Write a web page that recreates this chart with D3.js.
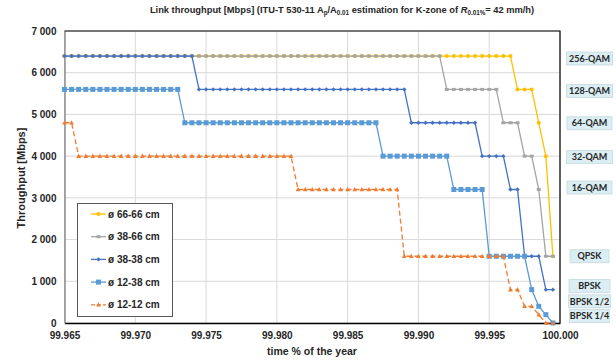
<!DOCTYPE html>
<html>
<head>
<meta charset="utf-8">
<script src="https://cdn.jsdelivr.net/npm/d3@7"></script>
<style>
  body { margin: 0; background: #fff; }
  text { font-family: "Liberation Sans", Arial, sans-serif; font-weight: bold; fill: #262626; }
  .mod text { font-family: Lato, "Open Sans", sans-serif; }
</style>
</head>
<body>
<div id="graph"></div>
<script>
// time % of the year (x values, every 0.0005)
const timePct = [
  99.9650, 99.9655, 99.9660, 99.9665, 99.9670, 99.9675, 99.9680, 99.9685, 99.9690, 99.9695,
  99.9700, 99.9705, 99.9710, 99.9715, 99.9720, 99.9725, 99.9730, 99.9735, 99.9740, 99.9745,
  99.9750, 99.9755, 99.9760, 99.9765, 99.9770, 99.9775, 99.9780, 99.9785, 99.9790, 99.9795,
  99.9800, 99.9805, 99.9810, 99.9815, 99.9820, 99.9825, 99.9830, 99.9835, 99.9840, 99.9845,
  99.9850, 99.9855, 99.9860, 99.9865, 99.9870, 99.9875, 99.9880, 99.9885, 99.9890, 99.9895,
  99.9900, 99.9905, 99.9910, 99.9915, 99.9920, 99.9925, 99.9930, 99.9935, 99.9940, 99.9945,
  99.9950, 99.9955, 99.9960, 99.9965, 99.9970, 99.9975, 99.9980, 99.9985, 99.9990, 99.9995
];

// throughput [Mbps] per antenna pair
const d66_66 = [
  6400, 6400, 6400, 6400, 6400, 6400, 6400, 6400, 6400, 6400,
  6400, 6400, 6400, 6400, 6400, 6400, 6400, 6400, 6400, 6400,
  6400, 6400, 6400, 6400, 6400, 6400, 6400, 6400, 6400, 6400,
  6400, 6400, 6400, 6400, 6400, 6400, 6400, 6400, 6400, 6400,
  6400, 6400, 6400, 6400, 6400, 6400, 6400, 6400, 6400, 6400,
  6400, 6400, 6400, 6400, 6400, 6400, 6400, 6400, 6400, 6400,
  6400, 6400, 6400, 6400, 5600, 5600, 5600, 4800, 4000, 1600
];
const d38_66 = [
  6400, 6400, 6400, 6400, 6400, 6400, 6400, 6400, 6400, 6400,
  6400, 6400, 6400, 6400, 6400, 6400, 6400, 6400, 6400, 6400,
  6400, 6400, 6400, 6400, 6400, 6400, 6400, 6400, 6400, 6400,
  6400, 6400, 6400, 6400, 6400, 6400, 6400, 6400, 6400, 6400,
  6400, 6400, 6400, 6400, 6400, 6400, 6400, 6400, 6400, 6400,
  6400, 6400, 6400, 6400, 5600, 5600, 5600, 5600, 5600, 5600,
  5600, 5600, 4800, 4800, 4800, 4000, 4000, 3200, 1600, 1600
];
const d38_38 = [
  6400, 6400, 6400, 6400, 6400, 6400, 6400, 6400, 6400, 6400,
  6400, 6400, 6400, 6400, 6400, 6400, 6400, 6400, 6400, 5600,
  5600, 5600, 5600, 5600, 5600, 5600, 5600, 5600, 5600, 5600,
  5600, 5600, 5600, 5600, 5600, 5600, 5600, 5600, 5600, 5600,
  5600, 5600, 5600, 5600, 5600, 5600, 5600, 5600, 5600, 4800,
  4800, 4800, 4800, 4800, 4800, 4800, 4800, 4800, 4800, 4000,
  4000, 4000, 4000, 3200, 3200, 1600, 1600, 1600, 800, 800
];
const d12_38 = [
  5600, 5600, 5600, 5600, 5600, 5600, 5600, 5600, 5600, 5600,
  5600, 5600, 5600, 5600, 5600, 5600, 5600, 4800, 4800, 4800,
  4800, 4800, 4800, 4800, 4800, 4800, 4800, 4800, 4800, 4800,
  4800, 4800, 4800, 4800, 4800, 4800, 4800, 4800, 4800, 4800,
  4800, 4800, 4800, 4800, 4800, 4000, 4000, 4000, 4000, 4000,
  4000, 4000, 4000, 4000, 4000, 3200, 3200, 3200, 3200, 3200,
  1600, 1600, 1600, 1600, 1600, 1600, 800, 400, 200, 0
];
const d12_12 = [
  4800, 4800, 4000, 4000, 4000, 4000, 4000, 4000, 4000, 4000,
  4000, 4000, 4000, 4000, 4000, 4000, 4000, 4000, 4000, 4000,
  4000, 4000, 4000, 4000, 4000, 4000, 4000, 4000, 4000, 4000,
  4000, 4000, 4000, 3200, 3200, 3200, 3200, 3200, 3200, 3200,
  3200, 3200, 3200, 3200, 3200, 3200, 3200, 3200, 1600, 1600,
  1600, 1600, 1600, 1600, 1600, 1600, 1600, 1600, 1600, 1600,
  1600, 1600, 1600, 800, 800, 400, 400, 200, 0, 0
];

const seriesNames = ["ø 66-66 cm", "ø 38-66 cm", "ø 38-38 cm", "ø 12-38 cm", "ø 12-12 cm"];
const seriesValues = [d66_66, d38_66, d38_38, d12_38, d12_12];

const xTicks = [99.965, 99.970, 99.975, 99.980, 99.985, 99.990, 99.995, 100.000];
const yTicks = [0, 1000, 2000, 3000, 4000, 5000, 6000, 7000];

// modulation labels and the rate they stand for
const modLabels = ["256-QAM", "128-QAM", "64-QAM", "32-QAM", "16-QAM", "QPSK", "BPSK", "BPSK 1/2", "BPSK 1/4"];
const modRates = [6400, 5600, 4800, 4000, 3200, 1600, 800, 400, 200];

const W = 616, H = 362;
const colors = ["#FFC000", "#A5A5A5", "#4472C4", "#5B9BD5", "#ED7D31"];
const markers = ["circle", "dash", "diamond", "square", "triangle"];

const svg = d3.select("#graph").append("svg")
  .attr("width", W).attr("height", H)
  .attr("viewBox", "0 0 " + W + " " + H);

const x = d3.scaleLinear().domain([99.965, 100.000]).range([64.5, 560]);
const y = d3.scaleLinear().domain([0, 7000]).range([323, 31]);

// grid
svg.append("g").selectAll("line").data(yTicks).enter().append("line")
  .attr("x1", x(99.965)).attr("x2", x(100)).attr("y1", d => y(d)).attr("y2", d => y(d))
  .attr("stroke", "#d9d9d9").attr("stroke-width", 1);
svg.append("g").selectAll("line").data(xTicks).enter().append("line")
  .attr("y1", y(0)).attr("y2", y(7000)).attr("x1", d => x(d)).attr("x2", d => x(d))
  .attr("stroke", "#d9d9d9").attr("stroke-width", 1);

// axes
const xAxis = svg.append("g").attr("transform", "translate(0," + y(0) + ")")
  .call(d3.axisBottom(x).tickValues(xTicks).tickSize(0).tickPadding(9).tickFormat(d3.format(".3f")));
xAxis.select(".domain").attr("stroke", "#000").attr("stroke-width", 1.3);
xAxis.selectAll("text").style("font-size", "10px").style("font-family", null).attr("fill", "#262626");

const yAxis = svg.append("g").attr("transform", "translate(" + x(99.965) + ",0)")
  .call(d3.axisLeft(y).tickValues(yTicks).tickSize(0).tickPadding(8)
    .tickFormat(d => d3.format(",")(d).replace(/,/g, " ")));
yAxis.select(".domain").attr("stroke", "#7f7f7f").attr("stroke-width", 1.3);
yAxis.selectAll("text").style("font-size", "10px").style("font-family", null).attr("fill", "#262626");

// top and right border
svg.append("path")
  .attr("d", "M" + x(99.965) + "," + y(7000) + "H" + x(100) + "V" + y(0))
  .attr("fill", "none").attr("stroke", "#000").attr("stroke-width", 1.2);

function drawMarker(g, type, color) {
  if (type === "circle") g.append("circle").attr("r", 2).attr("fill", color);
  else if (type === "dash") g.append("rect").attr("x", -2).attr("y", -1.5).attr("width", 4).attr("height", 3).attr("fill", color);
  else if (type === "diamond") g.append("path").attr("d", "M0,-2.2L2.2,0L0,2.2L-2.2,0Z").attr("fill", color);
  else if (type === "square") g.append("rect").attr("x", -2.5).attr("y", -2.5).attr("width", 5).attr("height", 5).attr("fill", color);
  else if (type === "triangle") g.append("path").attr("d", "M0,-2.6L2.4,1.8L-2.4,1.8Z").attr("fill", color);
}

const line = d3.line().x(d => x(d[0])).y(d => y(d[1]));

seriesValues.forEach((vals, s) => {
  const pts = timePct.map((t, i) => [t, vals[i]]);
  const g = svg.append("g");
  g.append("path").datum(pts)
    .attr("d", line)
    .attr("fill", "none")
    .attr("stroke", colors[s])
    .attr("stroke-width", 1.3)
    .attr("stroke-dasharray", s === 4 ? "5,3" : null);
  g.selectAll("g.m").data(pts).enter().append("g")
    .attr("class", "m")
    .attr("transform", d => "translate(" + x(d[0]) + "," + y(d[1]) + ")")
    .each(function () { drawMarker(d3.select(this), markers[s], colors[s]); });
});

// legend
const leg = svg.append("g");
leg.append("rect").attr("x", 77.5).attr("y", 203.5).attr("width", 95).attr("height", 113)
  .attr("fill", "#fff").attr("stroke", "#595959").attr("stroke-width", 1);
seriesNames.forEach((name, s) => {
  const ly = 214 + s * 22.7;
  const row = leg.append("g").attr("transform", "translate(0," + ly + ")");
  row.append("line").attr("x1", 91).attr("x2", 106).attr("y1", 0).attr("y2", 0)
    .attr("stroke", colors[s]).attr("stroke-width", 1.3)
    .attr("stroke-dasharray", s === 4 ? "4,2" : null);
  drawMarker(row.append("g").attr("transform", "translate(98.5,0)"), markers[s], colors[s]);
  row.append("text").attr("x", 108).attr("y", 3.6).style("font-size", "10px").text(name);
});

// modulation labels
const nudge = [2.5, 1.5, 0.5, 1, -2, 0, -3.5, -5, 1.5];
const boxW = [46, 46, 45, 46, 45, 39, 41, 42, 40];
const mod = svg.append("g").attr("class", "mod");
modLabels.forEach((lab, i) => {
  const cy = y(modRates[i]) + nudge[i];
  const cx = 589.5;
  mod.append("rect").attr("x", cx - boxW[i] / 2).attr("y", cy - 6.5)
    .attr("width", boxW[i]).attr("height", 13)
    .attr("fill", "#DAEEF3").attr("stroke", "#c5d9df").attr("stroke-width", 0.8);
  mod.append("text").attr("x", cx).attr("y", cy + 3.2).attr("text-anchor", "middle")
    .style("font-size", "9px").attr("fill", "#1f1f1f").text(lab);
});

// title
const title = svg.append("text").attr("x", 342).attr("y", 13).attr("text-anchor", "middle")
  .style("font-size", "9.3px");
title.append("tspan").text("Link throughput [Mbps] (ITU-T 530-11 A");
title.append("tspan").attr("dy", 2.3).style("font-size", "6.3px").text("p");
title.append("tspan").attr("dy", -2.3).text("/A");
title.append("tspan").attr("dy", 2.3).style("font-size", "6.3px").text("0.01");
title.append("tspan").attr("dy", -2.3).text(" estimation for K-zone of ");
title.append("tspan").style("font-style", "italic").text("R");
title.append("tspan").attr("dy", 2.3).style("font-size", "6.3px").text("0.01%");
title.append("tspan").attr("dy", -2.3).text("= 42 mm/h)");

// axis titles
svg.append("text").attr("x", 312).attr("y", 355).attr("text-anchor", "middle")
  .style("font-size", "10.5px").text("time % of the year");
svg.append("text").attr("transform", "translate(25,178) rotate(-90)").attr("text-anchor", "middle")
  .style("font-size", "11px").text("Throughput [Mbps]");
</script>
</body>
</html>
